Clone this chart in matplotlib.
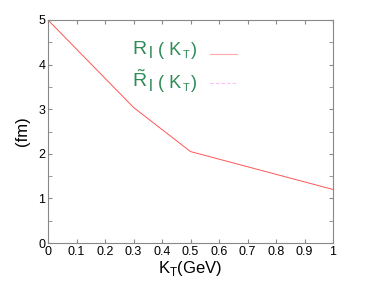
import matplotlib
matplotlib.use('Agg')
import numpy as np
from matplotlib import pyplot as plt
from matplotlib.ticker import MultipleLocator

plt.rcParams['font.family'] = ['Liberation Sans', 'DejaVu Sans']

# data
kt = [0.0, 0.3, 0.5, 1.0]
r_long = [5.0, 3.04, 2.05, 1.2]
kt_tilde = []
r_long_tilde = []

x_ticks = [0, 0.1, 0.2, 0.3, 0.4, 0.5, 0.6, 0.7, 0.8, 0.9, 1]
x_labels = ['0', '0.1', '0.2', '0.3', '0.4', '0.5', '0.6', '0.7', '0.8', '0.9', '1']
y_ticks = [0, 1, 2, 3, 4, 5]

W, H = 369, 282
fig = plt.figure(figsize=(W/100, H/100), dpi=100)
ax = fig.add_axes([48/W, 1 - 243/H, 285/W, 223/H])

ax.plot(kt, r_long, color='#ff5555', lw=0.7)
ax.plot(kt_tilde, r_long_tilde, color='#ff88ff', lw=0.7, ls=(0, (3, 2)))

ax.set_xlim(0, 1)
ax.set_ylim(0, 5)
ax.set_xticks(x_ticks)
ax.set_xticklabels(x_labels)
ax.set_yticks(y_ticks)
ax.yaxis.set_minor_locator(MultipleLocator(0.5))
ax.tick_params(which='both', direction='in', top=True, right=True,
               color='#888888', labelsize=9, pad=2, length=3)
for s in ax.spines.values():
    s.set_color('#888888')
    s.set_linewidth(0.8)

ax.set_xlabel(r'K$_\mathregular{T}$(GeV)', fontsize=12, labelpad=1)
ax.set_ylabel('(fm)', fontsize=12, labelpad=6)

# legend drawn piece by piece in pixel positions
green = '#2e8b57'
def px(x, y):
    return x / W, 1 - y / H

def legend_row(y, tilde):
    r = r'$\mathregular{\tilde{R}}$' if tilde else 'R'
    fig.text(*px(132, y), r, color=green, fontsize=14, va='baseline')
    fig.text(*px(149, y + 4), 'l', color=green, fontsize=12, va='baseline')
    fig.text(*px(158, y + 1), '( K', color=green, fontsize=13, va='baseline')
    fig.text(*px(183, y + 4), 'T', color=green, fontsize=8, va='baseline')
    fig.text(*px(191, y + 1), ')', color=green, fontsize=13, va='baseline')

legend_row(54, False)
legend_row(87, True)
fig.add_artist(plt.Line2D([210/W, 237/W], [1 - 54/H, 1 - 54/H], color='#ffaaaa', lw=0.8))
fig.add_artist(plt.Line2D([210/W, 237/W], [1 - 83/H, 1 - 83/H], color='#ffbbff', lw=0.8, ls=(0, (3, 2))))

fig.savefig('out.png', dpi=100)
